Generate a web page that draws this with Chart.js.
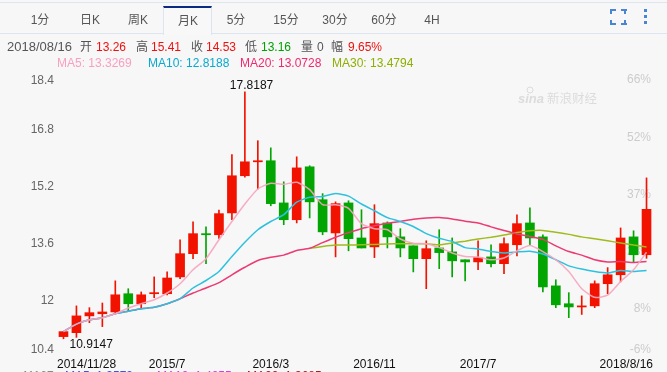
<!DOCTYPE html>
<html>
<head>
<meta charset="utf-8">
<script src="https://cdn.jsdelivr.net/npm/chart.js@4"></script>
<style>
    html, body { margin: 0; padding: 0; background: #f7f7f7; }
    body { position: relative; width: 667px; height: 372px; overflow: hidden;
        font-family: "Liberation Sans", "Noto Sans CJK SC", sans-serif; }
    canvas { position: absolute; left: 0; top: 0; }
    .t { position: absolute; white-space: nowrap; line-height: 16px; }
    .tab { font-size: 12px; color: #555; top: 12px; transform: translateX(-50%); }
    .info { font-size: 12px; top: 39px; color: #555; }
    .ma { font-size: 12px; top: 55px; }
    .low { font-size: 12px; top: 368px; }
    .line { position: absolute; left: 0; width: 667px; height: 1px; background: #dde5f1; }
    .active { position: absolute; left: 163px; top: 6px; width: 47px; height: 27px; background: #f8f8f8;
        border-top: 2px solid #0b2a82; border-left: 1px solid #dde5f1; border-right: 1px solid #dde5f1; }
    .ico { position: absolute; background: #4a86d0; }
</style>
</head>
<body>
<canvas id="kline" width="667" height="372"></canvas>
<div class="line" style="top:2px"></div>
<div class="line" style="top:33px"></div>
<div class="active"></div>
<div id="tabs"></div>
<div id="icons"></div>
<div id="info"></div>
<script>
// Monthly candles, 2014/11 to 2018/8
const categories = [
    "2014/11/28", "2014/12",
    "2015/1", "2015/2", "2015/3", "2015/4", "2015/5", "2015/6", "2015/7", "2015/8", "2015/9", "2015/10", "2015/11", "2015/12",
    "2016/1", "2016/2", "2016/3", "2016/4", "2016/5", "2016/6", "2016/7", "2016/8", "2016/9", "2016/10", "2016/11", "2016/12",
    "2017/1", "2017/2", "2017/3", "2017/4", "2017/5", "2017/6", "2017/7", "2017/8", "2017/9", "2017/10", "2017/11", "2017/12",
    "2018/1", "2018/2", "2018/3", "2018/4", "2018/5", "2018/6", "2018/7", "2018/8/16",
];
const opens = [
    10.97, 11.08, 11.55, 11.61, 11.66, 12.17, 11.89, 12.17, 12.17, 12.64, 13.29, 13.85, 13.82, 14.43, 15.47, 15.86,
    15.89, 14.71, 14.24, 15.72, 14.80, 13.87, 14.71, 13.73, 13.48, 14.15, 13.76, 13.51, 13.15, 13.45,
    13.34, 13.12, 13.06, 13.20, 13.01, 13.54, 14.15, 13.76, 12.39, 11.89, 11.80, 11.83, 12.45, 12.70, 13.76, 13.26,
];
const closes = [
    11.11, 11.55, 11.64, 11.66, 12.14, 11.89, 12.14, 12.20, 12.61, 13.29, 13.85, 13.82, 14.41, 15.47, 15.86, 15.89,
    14.69, 14.24, 15.69, 14.74, 13.90, 14.69, 13.71, 13.45, 14.13, 13.76, 13.45, 13.15, 13.43, 13.32,
    13.09, 13.06, 13.18, 13.01, 13.57, 14.13, 13.73, 12.36, 11.86, 11.80, 11.83, 12.45, 12.70, 13.73, 13.26, 14.53,
];
const highs = [
    11.11, 11.83, 11.78, 11.91, 12.53, 12.31, 12.22, 12.64, 12.78, 13.68, 14.18, 14.04, 14.51, 16.06, 17.82, 16.45,
    16.25, 15.30, 16.00, 15.75, 14.97, 14.74, 14.77, 14.52, 14.66, 14.18, 13.99, 13.51, 13.65, 13.96,
    13.73, 13.12, 13.65, 13.54, 13.73, 14.38, 14.57, 13.82, 12.56, 12.20, 12.11, 12.53, 12.90, 14.01, 13.93, 15.41,
];
const lows = [
    10.91, 10.95, 11.36, 11.25, 11.61, 11.69, 11.75, 12.06, 12.14, 12.59, 13.15, 13.01, 13.72, 14.24, 15.43, 15.10,
    14.63, 14.10, 14.15, 14.29, 13.82, 13.20, 13.37, 13.45, 13.18, 13.45, 13.20, 12.78, 12.31, 12.87,
    12.64, 12.53, 12.84, 12.92, 12.73, 13.23, 13.54, 12.22, 11.78, 11.50, 11.59, 11.78, 12.17, 12.50, 13.06, 13.16,
];
const ma5 = [
    11.11, 11.32, 11.44, 11.50, 11.61, 11.77, 11.89, 12.00, 12.19, 12.45, 12.84, 13.15, 13.68, 14.19, 14.68, 15.10,
    15.26, 15.23, 15.29, 15.08, 14.66, 14.66, 14.56, 14.13, 13.99, 13.96, 13.70, 13.58, 13.57, 13.46,
    13.31, 13.21, 13.20, 13.12, 13.17, 13.37, 13.52, 13.35, 13.12, 12.79, 12.31, 12.07, 12.13, 12.51, 12.84, 13.33,
];
const ma10 = [
    11.11, 11.32, 11.44, 11.50, 11.61, 11.68, 11.75, 11.79, 11.89, 12.03, 12.33, 12.54, 12.79, 13.21, 13.61, 13.96,
    14.19, 14.38, 14.73, 14.87, 14.89, 14.97, 14.90, 14.68, 14.49, 14.30, 14.19, 14.05, 13.85, 13.72,
    13.63, 13.46, 13.42, 13.35, 13.31, 13.34, 13.36, 13.28, 13.12, 12.95, 12.86, 12.79, 12.75, 12.82, 12.79, 12.82,
];
const ma20 = [
    11.11, 11.32, 11.44, 11.50, 11.61, 11.68, 11.75, 11.79, 11.89, 12.03, 12.19, 12.33, 12.48, 12.70, 12.91, 13.10,
    13.19, 13.25, 13.38, 13.44, 13.60, 13.75, 13.88, 13.99, 14.07, 14.14, 14.19, 14.25, 14.29, 14.30,
    14.26, 14.20, 14.15, 14.04, 13.94, 13.84, 13.77, 13.69, 13.51, 13.35, 13.25, 13.12, 13.06, 13.07, 13.04, 13.07,
];
const ma30 = [
    null, null, null, null, null, null, null, null, null, null, null, null, null, null, null, null,
    null, null, null, 13.44, 13.49, 13.53, 13.53, 13.54, 13.55, 13.56, 13.57, 13.57, 13.57, 13.54,
    13.59, 13.64, 13.70, 13.75, 13.81, 13.88, 13.93, 13.94, 13.89, 13.83, 13.76, 13.71, 13.65, 13.59, 13.53, 13.48,
];
const yTicks = [18.4, 16.8, 15.2, 13.6, 12, 10.4];
const yTickLabels = ["18.4", "16.8", "15.2", "13.6", "12", "10.4"];
const pctLabels = ["66%", "52%", "37%", "23%", "8%", "-6%"];
const xTickLabels = ["2014/11/28", "2015/7", "2016/3", "2016/11", "2017/7", "2018/8/16"];
const tabNames = ["1分", "日K", "周K", "月K", "5分", "15分", "30分", "60分", "4H"];

const RED = "#f11300";
const GREEN = "#02a502";
const candleColors = opens.map((o, i) => (closes[i] >= o && !(i === 11) ? RED : GREEN));

// Header: tabs, icons, quote row, MA row
const addText = (parent, cls, text, left, color, extra) => {
    const el = document.createElement("div");
    el.className = "t " + cls;
    el.textContent = text;
    el.style.left = left + "px";
    if (color) el.style.color = color;
    if (extra) el.style.cssText += extra;
    parent.appendChild(el);
};
const tabCenters = [40, 90, 138, 188, 236, 286, 335, 384, 432];
const tabsEl = document.getElementById("tabs");
tabNames.forEach((name, i) => addText(tabsEl, "tab", name, tabCenters[i], null, i === 3 ? "top:13px" : ""));

const iconsEl = document.getElementById("icons");
const addIco = (l, t, w, h) => {
    const el = document.createElement("div");
    el.className = "ico";
    el.style.cssText = `left:${l}px;top:${t}px;width:${w}px;height:${h}px`;
    iconsEl.appendChild(el);
};
[[610, 9], [621, 9], [610, 23], [621, 23]].forEach(([l, t]) => addIco(l, t, 6, 2));
[[610, 9], [624, 9], [610, 20], [624, 20]].forEach(([l, t]) => addIco(l, t, 2, 5));
[9, 15, 21].forEach((t) => addIco(644, t, 3, 3));

const infoEl = document.getElementById("info");
[
    ["2018/08/16", 7, "#555", "font-size:13px"], ["开", 80, "#555"], ["13.26", 96, "#f01010"], ["高", 136, "#555"], ["15.41", 151, "#f01010"],
    ["收", 191, "#555"], ["14.53", 206, "#f01010"], ["低", 245, "#555"], ["13.16", 261, "#00a000"], ["量", 301, "#555"],
    ["0", 317, "#555"], ["幅", 331, "#555"], ["9.65%", 348, "#f01010"],
].forEach(([text, x, color, extra]) => addText(infoEl, "info", text, x, color, extra));
[
    ["MA5: 13.3269", 57, "#f8a0c0"], ["MA10: 12.8188", 148, "#0aa9d0"],
    ["MA20: 13.0728", 240, "#f0296f"], ["MA30: 13.4794", 332, "#8fae00"],
].forEach(([text, x, color]) => addText(infoEl, "ma", text, x, color));
// Second legend row, cut off by the bottom edge of the picture
[
    ["11167", 22, "#888"], ["MA5: 1.3579", 65, "#3a55e0"],
    ["MA10: 1.4255", 157, "#d040e0"], ["MA20: 1.3685", 247, "#a02020"],
].forEach(([text, x, color]) => addText(infoEl, "low", text, x, color));

// Axis labels and the watermark go under the candles, high/low notes on top
const underLabels = {
    id: "underLabels",
    beforeDatasetsDraw(chart) {
        const { ctx, scales } = chart;
        ctx.save();
        ctx.textBaseline = "middle";

        ctx.fillStyle = "#dcdcdc";
        ctx.strokeStyle = "#dcdcdc";
        ctx.textAlign = "left";
        ctx.font = "italic bold 13px 'Liberation Sans'";
        ctx.fillText("sina", 518, 99);
        ctx.beginPath();
        ctx.arc(530, 90, 3, 0, Math.PI * 2);
        ctx.stroke();
        ctx.font = "12.5px 'Noto Sans CJK SC'";
        ctx.fillText("新浪财经", 547, 98);

        ctx.font = "12px 'Liberation Sans'";
        yTicks.forEach((v, i) => {
            const y = scales.y.getPixelForValue(v) + 1;
            const leftY = i === 0 ? y + 9 : i === yTicks.length - 1 ? y - 8 : y;
            const rightY = i === yTicks.length - 1 ? y - 8 : y + 8;
            ctx.textAlign = "right";
            ctx.fillStyle = "#666";
            ctx.fillText(yTickLabels[i], 54, leftY);
            ctx.fillStyle = "#ccc";
            ctx.fillText(pctLabels[i], 651, rightY);
        });
        ctx.restore();
    },
    afterDatasetsDraw(chart) {
        const { ctx, scales, chartArea } = chart;
        ctx.save();
        ctx.font = "12px 'Liberation Sans'";
        ctx.fillStyle = "#111";
        ctx.textBaseline = "middle";

        xTickLabels.forEach((label, i) => {
            const x = scales.x.getPixelForValue(categories.indexOf(label) >= 0 ? categories.indexOf(label) : label);
            ctx.textAlign = i === 0 ? "left" : i === xTickLabels.length - 1 ? "right" : "center";
            const px = i === 0 ? chartArea.left : i === xTickLabels.length - 1 ? chartArea.right : x;
            ctx.fillText(label, px, 365);
        });

        // highest and lowest prices
        ctx.textAlign = "left";
        ctx.fillText("17.8187", scales.x.getPixelForValue(14) - 15, scales.y.getPixelForValue(17.82) - 6);
        ctx.fillText("10.9147", scales.x.getPixelForValue(0) + 6, scales.y.getPixelForValue(10.91) + 6);
        ctx.restore();
    },
};

const maLine = (label, data, color, order) => ({
    type: "line",
    label,
    data,
    borderColor: color,
    borderWidth: 1.5,
    pointRadius: 0,
    tension: 0.2,
    order,
});

new Chart(document.getElementById("kline"), {
    type: "bar",
    data: {
        labels: categories,
        datasets: [
            maLine("MA5", ma5, "rgba(247,165,191,0.92)", 1),
            maLine("MA10", ma10, "#2dc1df", 2),
            maLine("MA20", ma20, "#ec3a72", 3),
            maLine("MA30", ma30, "#a0bb1c", 4),
            {
                label: "body",
                data: opens.map((o, i) => [o, closes[i]]),
                backgroundColor: candleColors,
                barThickness: 9,
                minBarLength: 1,
                grouped: false,
                order: 5,
            },
            {
                label: "wick",
                data: lows.map((l, i) => [l, highs[i]]),
                backgroundColor: candleColors,
                barThickness: 1,
                grouped: false,
                order: 6,
            },
        ],
    },
    options: {
        responsive: false,
        animation: false,
        layout: { padding: { left: 57, right: 14, top: 71, bottom: 15 } },
        plugins: { legend: { display: false }, tooltip: { enabled: false } },
        scales: {
            x: { display: false },
            y: { display: false, min: 10.4, max: 18.4 },
        },
    },
    plugins: [underLabels],
});
</script>
</body>
</html>
